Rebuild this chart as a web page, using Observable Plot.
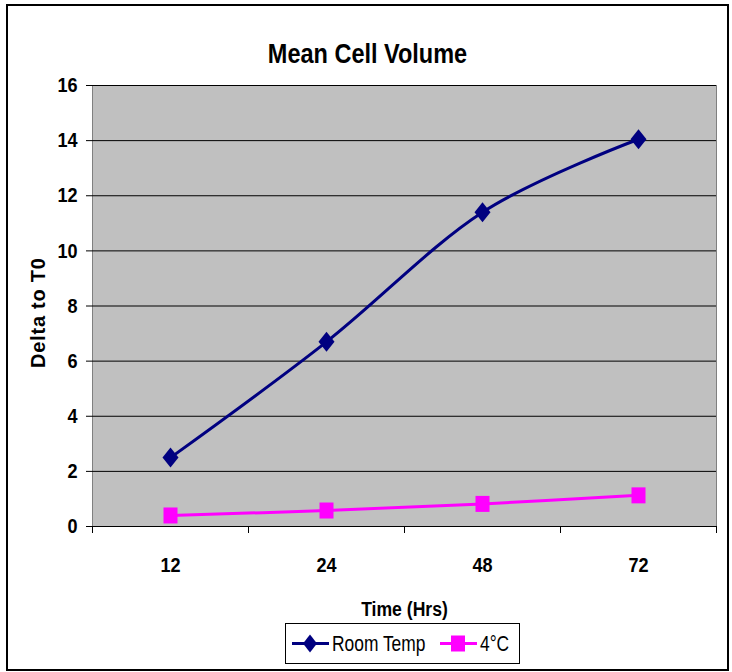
<!DOCTYPE html>
<html><head><meta charset="utf-8">
<script src="https://cdn.jsdelivr.net/npm/d3@7"></script>
<script src="https://cdn.jsdelivr.net/npm/@observablehq/plot@0.6"></script>
<style>
body{margin:0;background:#fff;}
#wrap{position:relative;width:732px;height:672px;font-family:"Liberation Sans",Arial,sans-serif;}
#frame{position:absolute;left:6px;top:4px;width:723px;height:667px;border:2px solid #000;box-sizing:border-box;pointer-events:none;}
#chart{position:absolute;left:0;top:0;}
#legend{position:absolute;left:285px;top:623px;}
#legend svg{display:block;}
</style>
</head><body>
<div id="wrap"><div id="chart"></div><div id="frame"></div><div id="legend"></div></div>
<script>
const hours = ["12", "24", "48", "72"];
const roomTemp = [2.5, 6.7, 11.4, 14.05];
const cold = [0.4, 0.58, 0.82, 1.13];
const yTicks = [0, 2, 4, 6, 8, 10, 12, 14, 16];
const seriesNames = ["Room Temp", "4°C"];
const seriesColors = ["#000080", "#FF00FF"];
const title = "Mean Cell Volume";
const xLabel = "Time (Hrs)";
const yLabel = "Delta to T0";

const diamond = {draw(ctx){ctx.moveTo(0,-10);ctx.lineTo(8,0);ctx.lineTo(0,10);ctx.lineTo(-8,0);ctx.closePath();}};
const square = {draw(ctx){ctx.rect(-7,-8,14,16);}};

const rows = (vals) => hours.map((h, i) => ({x: i + 0.5, y: vals[i]}));
const bounds = hours.map((h, i) => i).concat([hours.length]);
const centers = hours.map((h, i) => i + 0.5);
const font = '"Liberation Sans",Arial,sans-serif';

const chart = Plot.plot({
  width: 732, height: 672,
  marginLeft: 92, marginRight: 16, marginTop: 85, marginBottom: 146,
  x: {domain: [0, hours.length]},
  y: {domain: [0, 16]},
  style: {fontFamily: font, background: "transparent", color: "#000"},
  marks: [
    Plot.frame({fill: "#C0C0C0", stroke: "#808080"}),
    Plot.ruleY(yTicks, {stroke: "#000", strokeWidth: 1}),
    Plot.axisY({ticks: yTicks, tickSize: 6, tickPadding: 9, fontSize: 21, fontWeight: "bold", label: null}),
    Plot.axisX({ticks: bounds, tickSize: 7, tickFormat: () => "", label: null}),
    Plot.axisX({ticks: centers, tickSize: 0, tickPadding: 31, tickFormat: d => hours[Math.floor(d)], fontSize: 21, fontWeight: "bold", label: null}),
    Plot.line(rows(roomTemp), {x: "x", y: "y", stroke: seriesColors[0], strokeWidth: 3, curve: "cardinal"}),
    Plot.line(rows(cold), {x: "x", y: "y", stroke: seriesColors[1], strokeWidth: 3, curve: "cardinal"}),
    Plot.dot(rows(roomTemp), {x: "x", y: "y", symbol: diamond, fill: seriesColors[0], stroke: "none"}),
    Plot.dot(rows(cold), {x: "x", y: "y", symbol: square, fill: seriesColors[1], stroke: "none"}),
    Plot.text([title], {text: d => d, frameAnchor: "top", lineAnchor: "middle", dx: -37, dy: -31, fontSize: 27, fontWeight: "bold"}),
    Plot.text([xLabel], {text: d => d, frameAnchor: "bottom", lineAnchor: "middle", dy: 83, fontSize: 20, fontWeight: "bold"}),
    Plot.text([yLabel], {text: d => d, frameAnchor: "left", textAnchor: "middle", lineAnchor: "middle", rotate: -90, dx: -54, dy: 7, fontSize: 20, fontWeight: "bold"})
  ]
});
document.getElementById("chart").appendChild(chart);

// condense text like the narrow font of the original
d3.select(chart).selectAll("text").each(function() {
  const t = this.textContent;
  if (!t) return;
  const L = this.getComputedTextLength();
  if (!(L > 0)) return;
  if (t === yLabel) {
    this.setAttribute("textLength", 110);
    this.setAttribute("lengthAdjust", "spacing");
    return;
  }
  const f = t === title ? 0.87 : t === xLabel ? 0.88 : 0.86;
  this.setAttribute("textLength", L * f);
  this.setAttribute("lengthAdjust", "spacingAndGlyphs");
});

// legend
const W = 235, H = 41;
const svg = d3.select("#legend").append("svg").attr("width", W).attr("height", H).style("font-family", font);
svg.append("rect").attr("x", 0.5).attr("y", 0.5).attr("width", W - 1).attr("height", H - 1).attr("fill", "#fff").attr("stroke", "#000");
const starts = [7, 155];
seriesNames.forEach((name, i) => {
  const g = svg.append("g").attr("transform", `translate(${starts[i]},${H / 2})`);
  g.append("line").attr("x1", 0).attr("x2", 37).attr("stroke", seriesColors[i]).attr("stroke-width", 3);
  if (i === 0) g.append("path").attr("d", "M18,-9 L25,0 L18,9 L11,0 Z").attr("fill", seriesColors[i]);
  else g.append("rect").attr("x", 11).attr("y", -8).attr("width", 14).attr("height", 16).attr("fill", seriesColors[i]);
  const tx = g.append("text").attr("x", 40).attr("y", 0).attr("dy", "0.36em").attr("font-size", 22).text(name);
  const L = tx.node().getComputedTextLength();
  tx.attr("textLength", L * 0.79).attr("lengthAdjust", "spacingAndGlyphs");
});
</script>
</body></html>
